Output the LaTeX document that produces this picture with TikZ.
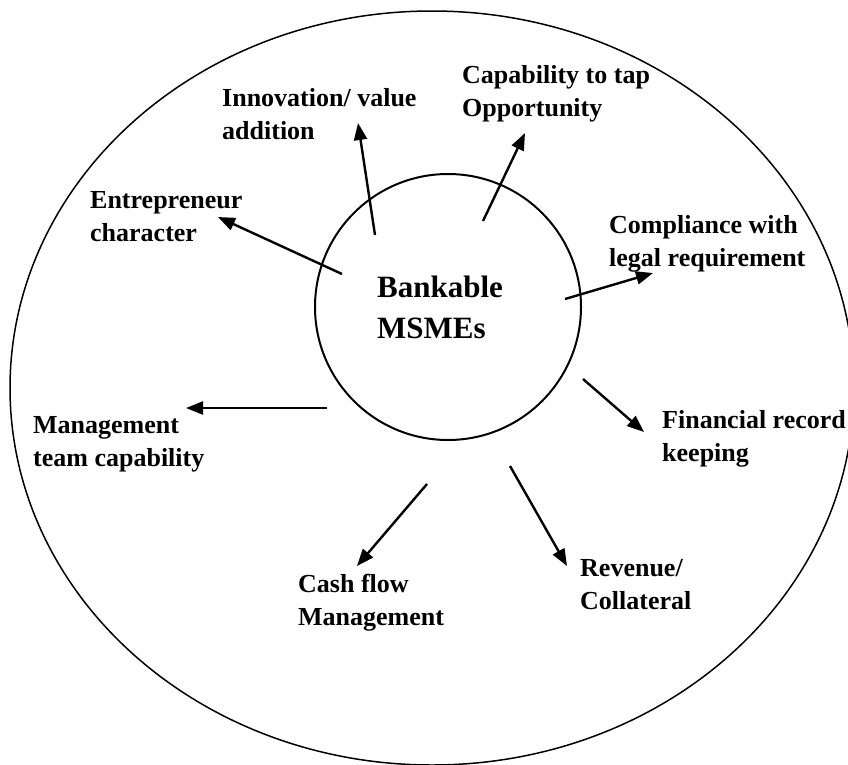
\documentclass[tikz,border=0pt]{standalone}
\usepackage{fontspec}
\setmainfont{Liberation Serif}
\usetikzlibrary{arrows.meta}

\begin{document}
\begin{tikzpicture}[x=1pt,y=-1pt]
        \tikzset{factor/.style = {anchor=north west, inner sep=0pt, align=left, font=\bfseries\fontsize{26}{33}\selectfont}}
        \tikzset{link/.style = {-{Triangle[length=17pt,width=13pt]}, line width=2.4pt}}
        \useasboundingbox (0,0) rectangle (848,764);
        \clip (0,0) rectangle (848,764);
        \fill[white] (0,0) rectangle (848,764);
        \draw[line width=1.5pt] (432,388) ellipse [x radius=422, y radius=377];
        \node[circle, draw, line width=2pt, minimum size=266pt] (hub) at (448,307) {};
        \node[anchor=north west, inner sep=0pt, align=left, font=\bfseries\fontsize{31}{41}\selectfont] (title) at (377,276) {Bankable\\MSMEs};
        \node[factor] (ent) at (90,191) {Entrepreneur\\character};
        \node[factor] (inn) at (222,88) {Innovation/ value\\addition};
        \node[factor] (cap) at (462,65) {Capability to tap\\Opportunity};
        \node[factor] (com) at (609,215) {Compliance with\\legal requirement};
        \node[factor] (fin) at (662,410) {Financial record\\keeping};
        \node[factor] (rev) at (580,559) {Revenue/\\Collateral};
        \node[factor] (cash) at (298,574) {Cash flow\\Management};
        \node[factor] (man) at (33,416) {Management\\team capability};
        % arrow ends
        \coordinate (ent-a) at (342,274);
        \coordinate (ent-b) at (218,217);
        \coordinate (inn-a) at (375,235);
        \coordinate (inn-b) at (358,123);
        \coordinate (cap-a) at (483,221);
        \coordinate (cap-b) at (525,133);
        \coordinate (com-a) at (565,299);
        \coordinate (com-b) at (653,273);
        \coordinate (fin-a) at (583,379);
        \coordinate (fin-b) at (644,432);
        \coordinate (rev-a) at (510,466);
        \coordinate (rev-b) at (567,566);
        \coordinate (cash-a) at (427,484);
        \coordinate (cash-b) at (357,566);
        \coordinate (man-a) at (327,408);
        \coordinate (man-b) at (186,408);
        \draw[link] (ent-a) to (ent-b);
        \draw[link] (inn-a) to (inn-b);
        \draw[link] (cap-a) to (cap-b);
        \draw[link] (com-a) to (com-b);
        \draw[link] (fin-a) to (fin-b);
        \draw[link] (rev-a) to (rev-b);
        \draw[link] (cash-a) to (cash-b);
        \draw[link] (man-a) to (man-b);
      \end{tikzpicture}
\end{document}
